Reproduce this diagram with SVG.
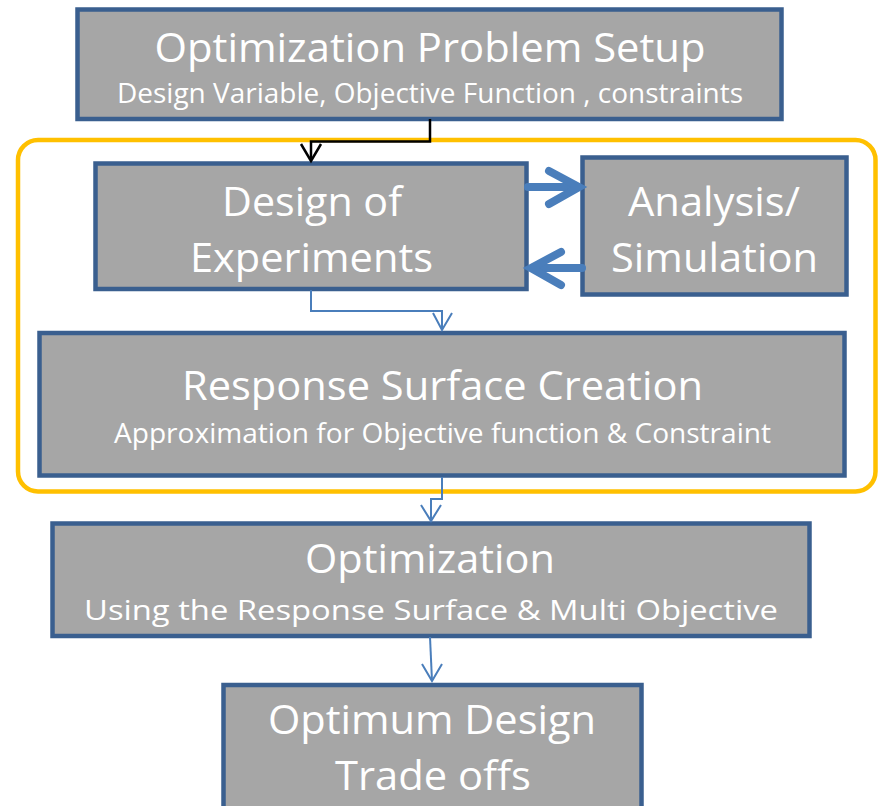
<svg xmlns="http://www.w3.org/2000/svg" width="878" height="806" viewBox="0 0 878 806">
  <style>
    .box { fill: #a6a6a6; stroke: #3a5f8f; stroke-width: 4.5; }
    .t { fill: #ffffff; font-family: "Open Sans", "Liberation Sans", sans-serif; text-anchor: middle; }
    .big { font-size: 41px; }
    .small { font-size: 27px; }
    .thin { fill: none; stroke: #4a7ebb; stroke-width: 2; stroke-linejoin: miter; }
    .thick { fill: none; stroke: #4a7ebb; stroke-width: 8; stroke-linecap: round; stroke-linejoin: miter; }
  </style>
  <rect width="878" height="806" fill="#ffffff"/>

  <!-- loop frame around DOE / analysis / response surface -->
  <rect id="loop-frame" x="18" y="140" width="857.5" height="351.5" rx="20" ry="20" fill="none" stroke="#ffc000" stroke-width="4.5"/>

  <g id="setup">
    <rect class="box" x="77.5" y="9.5" width="704" height="109.5"/>
    <text class="t big" x="430" y="62" textLength="551" lengthAdjust="spacingAndGlyphs">Optimization Problem Setup</text>
    <text class="t small" x="430" y="103" textLength="626" lengthAdjust="spacingAndGlyphs">Design Variable, Objective Function , constraints</text>
  </g>

  <g id="doe">
    <rect class="box" x="95.5" y="163.5" width="431" height="125.5"/>
    <text class="t big" x="312" y="216" textLength="180" lengthAdjust="spacingAndGlyphs">Design of</text>
    <text class="t big" x="311.5" y="272" textLength="243" lengthAdjust="spacingAndGlyphs">Experiments</text>
  </g>

  <g id="analysis">
    <rect class="box" x="582.5" y="157.5" width="264" height="137"/>
    <text class="t big" x="714" y="216" textLength="172" lengthAdjust="spacingAndGlyphs">Analysis/</text>
    <text class="t big" x="714.5" y="272" textLength="207" lengthAdjust="spacingAndGlyphs">Simulation</text>
  </g>

  <g id="response-surface">
    <rect class="box" x="39.5" y="333" width="805" height="142.5"/>
    <text class="t big" x="442.5" y="400" textLength="521" lengthAdjust="spacingAndGlyphs">Response Surface Creation</text>
    <text class="t small" x="442.5" y="443" textLength="657" lengthAdjust="spacingAndGlyphs">Approximation for Objective function &amp; Constraint</text>
  </g>

  <g id="optimization">
    <rect class="box" x="52.5" y="523.5" width="757" height="112.5"/>
    <text class="t big" x="430" y="573" textLength="250" lengthAdjust="spacingAndGlyphs">Optimization</text>
    <text class="t small" x="431" y="620" textLength="694" lengthAdjust="spacingAndGlyphs">Using the Response Surface &amp; Multi Objective</text>
  </g>

  <g id="optimum">
    <rect class="box" x="223.5" y="685" width="418" height="140"/>
    <text class="t big" x="432" y="734" textLength="328" lengthAdjust="spacingAndGlyphs">Optimum Design</text>
    <text class="t big" x="433" y="790" textLength="196" lengthAdjust="spacingAndGlyphs">Trade offs</text>
  </g>

  <g id="connectors">
    <!-- setup to DOE -->
    <path d="M430,119 V141.5 H311 V160" fill="none" stroke="#000000" stroke-width="2.5"/>
    <polyline points="301,144 311,161 321,144" fill="none" stroke="#000000" stroke-width="2.5"/>

    <!-- DOE <-> analysis loop -->
    <line class="thick" x1="528" y1="187" x2="577" y2="187"/>
    <polyline class="thick" points="549,171 579,187 549,204"/>
    <line class="thick" x1="582" y1="268" x2="533" y2="268"/>
    <polyline class="thick" points="561,252 531,268 561,285"/>

    <!-- DOE to response surface -->
    <path class="thin" d="M311,290 V311 H442 V330"/>
    <polyline class="thin" points="433,313 442,330 452,313"/>

    <!-- response surface to optimization -->
    <path class="thin" d="M442,477 V499 H431 V521"/>
    <polyline class="thin" points="421,505 431,521 441,505"/>

    <!-- optimization to optimum design -->
    <path class="thin" d="M430,637 L432,681"/>
    <polyline class="thin" points="422,664 432,681 442,664"/>
  </g>
</svg>
